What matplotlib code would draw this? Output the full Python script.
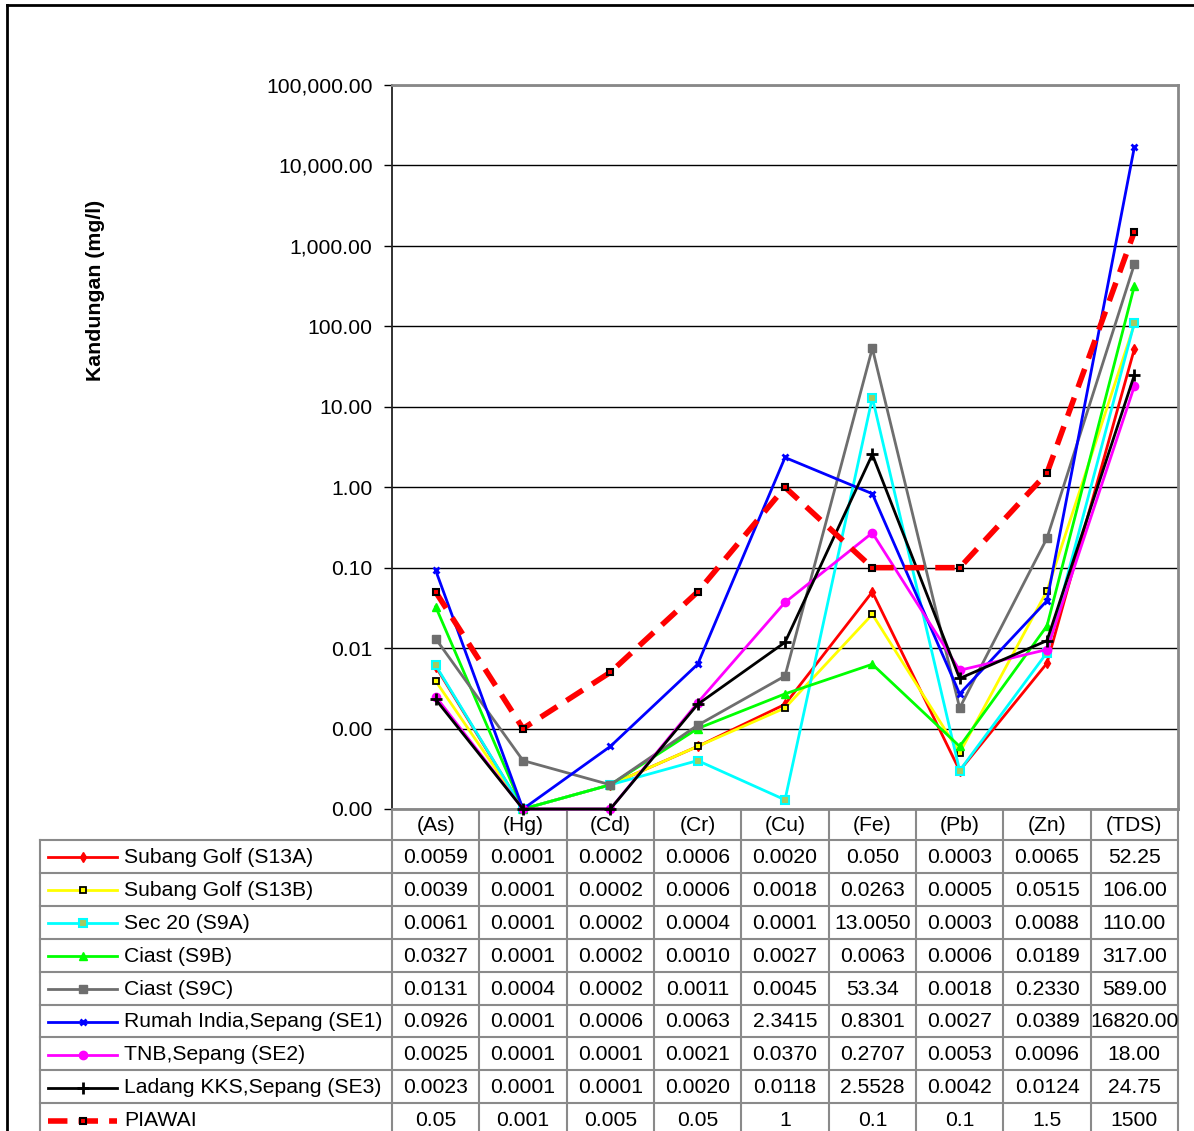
import matplotlib as mpl
mpl.use('Agg')
import matplotlib.pyplot as plt
from matplotlib.lines import Line2D
from matplotlib.transforms import blended_transform_factory
from matplotlib.ticker import FixedLocator, FuncFormatter

plt.rcParams['font.family'] = ['Liberation Sans', 'DejaVu Sans']

# ---- data (as shown in the data table) ----
categories = ['(As)', '(Hg)', '(Cd)', '(Cr)', '(Cu)', '(Fe)', '(Pb)', '(Zn)', '(TDS)']

series_names = ['Subang Golf (S13A)', 'Subang Golf (S13B)', 'Sec 20 (S9A)', 'Ciast (S9B)',
                'Ciast (S9C)', 'Rumah India,Sepang (SE1)', 'TNB,Sepang (SE2)',
                'Ladang KKS,Sepang (SE3)', 'PIAWAI']

s13a = ['0.0059', '0.0001', '0.0002', '0.0006', '0.0020', '0.050', '0.0003', '0.0065', '52.25']
s13b = ['0.0039', '0.0001', '0.0002', '0.0006', '0.0018', '0.0263', '0.0005', '0.0515', '106.00']
s9a = ['0.0061', '0.0001', '0.0002', '0.0004', '0.0001', '13.0050', '0.0003', '0.0088', '110.00']
s9b = ['0.0327', '0.0001', '0.0002', '0.0010', '0.0027', '0.0063', '0.0006', '0.0189', '317.00']
s9c = ['0.0131', '0.0004', '0.0002', '0.0011', '0.0045', '53.34', '0.0018', '0.2330', '589.00']
se1 = ['0.0926', '0.0001', '0.0006', '0.0063', '2.3415', '0.8301', '0.0027', '0.0389', '16820.00']
se2 = ['0.0025', '0.0001', '0.0001', '0.0021', '0.0370', '0.2707', '0.0053', '0.0096', '18.00']
se3 = ['0.0023', '0.0001', '0.0001', '0.0020', '0.0118', '2.5528', '0.0042', '0.0124', '24.75']
piawai = ['0.05', '0.001', '0.005', '0.05', '1', '0.1', '0.1', '1.5', '1500']

table_rows = [s13a, s13b, s9a, s9b, s9c, se1, se2, se3, piawai]

# plotted values: table is rounded, S9A (Cu) sits a bit above 0.0001 on the chart
s9a_plot = [float(v) for v in s9a]
s9a_plot[4] = 0.00013
plot_rows = [[float(v) for v in r] for r in table_rows]
plot_rows[2] = s9a_plot

y_ticks = [1e-4, 1e-3, 1e-2, 1e-1, 1, 10, 100, 1000, 10000, 100000]

# ---- styles ----
styles = [
    dict(color='#ff0000', marker='d', ms=5, mfc='#ff0000', mec='#ff0000', lw=2),
    dict(color='#ffff00', marker='s', ms=5, mfc='#ffff00', mec='black', mew=1.3, lw=2),
    dict(color='#00ffff', marker='s', ms=5.5, mfc='#a8c860', mec='#00ffff', mew=1.5, lw=2),
    dict(color='#00ff00', marker='^', ms=6, mfc='#00ff00', mec='#00ff00', lw=2),
    dict(color='#6e6e6e', marker='s', ms=5.5, mfc='#6e6e6e', mec='#6e6e6e', lw=2),
    dict(color='#0000ff', marker='x', ms=5, mec='#0000ff', mew=2, lw=2),
    dict(color='#ff00ff', marker='o', ms=6, mfc='#ff00ff', mec='#ff00ff', lw=2),
    dict(color='#000000', marker='+', ms=8, mec='#000000', mew=2, lw=2),
    dict(color='#ff0000', marker='s', ms=5, mfc='#ff0000', mec='black', mew=1.5, lw=4,
         dashes=(3.5, 2)),
]

W, H = 1194, 1131
FS = 15.2
fig = plt.figure(figsize=(W / 100, H / 100), dpi=100)

# overlay in pixel coordinates for frame and table
ov = fig.add_axes([0, 0, 1, 1])
ov.set_xlim(0, W)
ov.set_ylim(H, 0)
ov.axis('off')

ax_l, ax_r, ax_t, ax_b = 392, 1178, 85, 809
ax = fig.add_axes([ax_l / W, 1 - ax_b / H, (ax_r - ax_l) / W, (ax_b - ax_t) / H])
ax.set_yscale('log')
ax.set_ylim(1e-4, 1e5)
ax.set_xlim(-0.5, len(categories) - 0.5)

x = list(range(len(categories)))
for name, vals, st in zip(series_names, plot_rows, styles):
    ax.plot(x, vals, label=name, zorder=3, clip_on=False, **st)

ax.yaxis.set_major_locator(FixedLocator(y_ticks))
ax.yaxis.set_minor_locator(FixedLocator([]))
ax.yaxis.set_major_formatter(FuncFormatter(lambda v, p: f'{v:,.2f}'))
ax.tick_params(axis='y', labelsize=FS, length=6, width=1, pad=8, color='black')
ax.set_xticks([])
ax.grid(axis='y', color='black', lw=1)
ax.set_axisbelow(True)
for side in ['top', 'right', 'bottom']:
    ax.spines[side].set_color('#888888')
    ax.spines[side].set_linewidth(2)
ax.spines['left'].set_color('#222222')
ax.spines['left'].set_linewidth(1.3)

fig.text(95 / W, 1 - 290 / H, 'Kandungan (mg/l)', rotation=90, ha='center', va='center',
         fontsize=15.3, fontweight='bold')

# figure frame
ov.plot([7, 7], [5, H + 5], color='black', lw=2)
ov.plot([7, W + 5], [5, 5], color='black', lw=2)

# ---- data table ----
tr = blended_transform_factory(ax.transData, ov.transData)
grid_c = '#8a8a8a'
head_h = 31
row_h = 32.9
rows_top = ax_b + head_h
n = len(categories)

# header row
for i in range(n + 1):
    ov.plot([i - 0.5, i - 0.5], [ax_b, H + 5], color=grid_c, lw=1.5, transform=tr, clip_on=False)
for i, c in enumerate(categories):
    ov.text(i, ax_b + head_h / 2 + 1, c, ha='center', va='center', fontsize=FS, transform=tr)

ov.plot([40, 40], [rows_top, H + 5], color=grid_c, lw=1.5)
for k in range(len(series_names) + 1):
    yy = rows_top + k * row_h
    ov.plot([40, ax_r], [yy, yy], color=grid_c, lw=1.5)

mk_keys = ('marker', 'ms', 'mfc', 'mec', 'mew')
for k, (name, row, st) in enumerate(zip(series_names, table_rows, styles)):
    yc = rows_top + (k + 0.5) * row_h + 1
    ov.add_line(Line2D([48, 117], [yc, yc], **{kk: vv for kk, vv in st.items() if kk not in mk_keys}))
    ov.plot([82.5], [yc], linestyle='none', color=st['color'],
            **{kk: vv for kk, vv in st.items() if kk in mk_keys})
    ov.text(124, yc, name, ha='left', va='center', fontsize=FS)
    for i, v in enumerate(row):
        ov.text(i, yc, v, ha='center', va='center', fontsize=FS, transform=tr)

fig.savefig('out.png', dpi=100)
print('Saved to out.png')
